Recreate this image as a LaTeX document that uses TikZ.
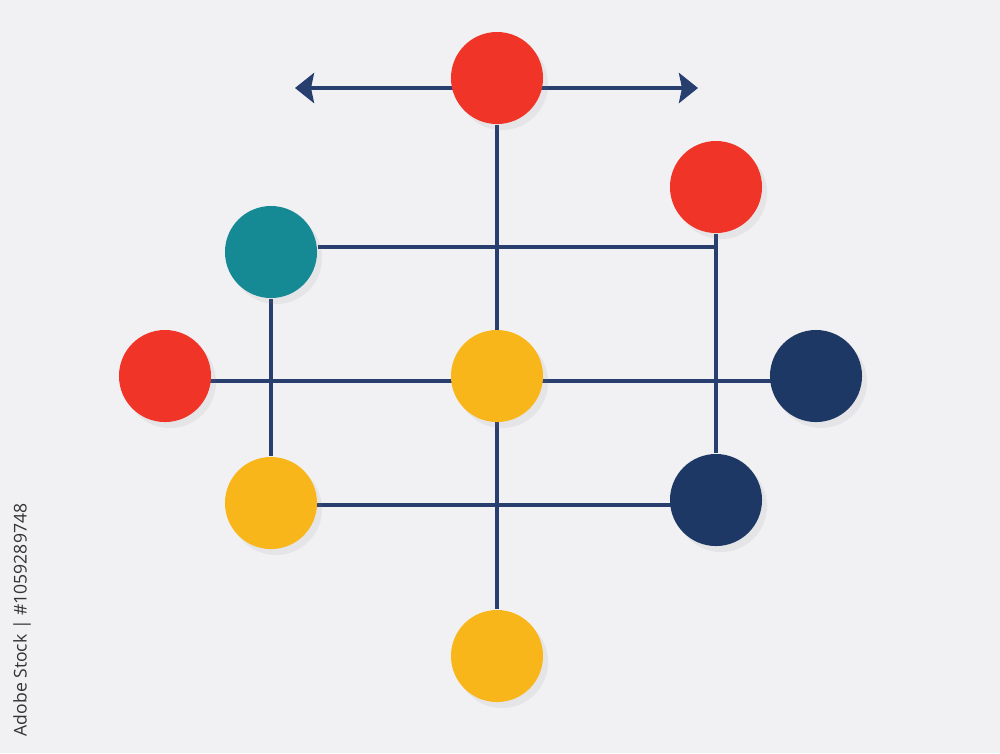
\documentclass[tikz,border=0pt]{standalone}
\usepackage{fontspec}
\setsansfont{Open Sans}
\usetikzlibrary{arrows.meta,shadows,backgrounds}

\definecolor{paper}{RGB}{241,241,243}
\definecolor{rodblue}{RGB}{40,62,110}
\definecolor{pinred}{RGB}{240,52,40}
\definecolor{pinteal}{RGB}{22,138,148}
\definecolor{pinyellow}{RGB}{248,182,26}
\definecolor{pinnavy}{RGB}{30,56,102}

\begin{document}
\begin{tikzpicture}[x=0.01cm,y=-0.01cm,
	disc/.style={circle,minimum size=0.92cm,inner sep=0pt,
		drop shadow={shadow xshift=0.05cm,shadow yshift=-0.06cm,opacity=0.1}},
	rod/.style={draw=rodblue,line width=1.4pt},
	tip/.style={-{Stealth[length=0.19cm,width=0.3cm,inset=0.03cm]}}]
	   \useasboundingbox (0,0) rectangle (1000,753);
	   \node[disc,fill=pinred] (top) at (497,78) {};
	   \node[disc,fill=pinred] (ured) at (716,187) {};
	   \node[disc,fill=pinteal] (teal) at (271,252) {};
	   \node[disc,fill=pinred] (lred) at (165,376) {};
	   \node[disc,fill=pinyellow] (mid) at (497,376) {};
	   \node[disc,fill=pinnavy] (rnavy) at (816,376) {};
	   \node[disc,fill=pinyellow] (lyel) at (271,503) {};
	   \node[disc,fill=pinnavy] (dnavy) at (716,500) {};
	   \node[disc,fill=pinyellow] (bot) at (497,656) {};
	   \coordinate (west) at (295,88);
	   \coordinate (east) at (698,88);
	   \coordinate (mast) at (497,88);
	   \coordinate (knee) at (714,247);
	   \coordinate (midrow) at (0,381);
	   \coordinate (lowrow) at (0,505);
	   \node[rotate=90,text=black!80,font=\sffamily\fontsize{5}{6}\selectfont] (stamp) at (22,620) {Adobe Stock | \#1059289748};
	   \begin{scope}[on background layer]
	    \fill[paper] (0,0) rectangle (1000,753);
	    \draw[rod,tip] (mast) -- (west);
	    \draw[rod,tip] (mast) -- (east);
	    \draw[rod] (top) -- (bot);
	    \draw[rod] (teal.east |- knee) -- (knee);
	    \draw[rod] (ured) -- (dnavy);
	    \draw[rod] (teal) -- (lyel);
	    \draw[rod] (lred |- midrow) -- (rnavy |- midrow);
	    \draw[rod] (lyel |- lowrow) -- (dnavy |- lowrow);
	   \end{scope}
	\end{tikzpicture}
\end{document}
